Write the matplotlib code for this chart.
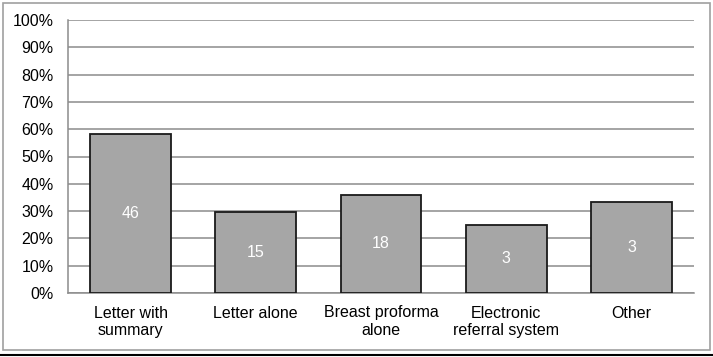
import numpy as np
import matplotlib
matplotlib.use('Agg')
import matplotlib.pyplot as plt
from matplotlib.patches import Rectangle
from matplotlib.ticker import PercentFormatter

categories = ['Letter with\nsummary', 'Letter alone', 'Breast proforma\nalone',
              'Electronic\nreferral system', 'Other']
percentages = [58.1, 29.5, 36.0, 25.0, 33.3]
counts = [46, 15, 18, 3, 3]
y_ticks = list(range(0, 101, 10))

plt.rcParams['font.family'] = ['Liberation Sans', 'DejaVu Sans']

fig = plt.figure(figsize=(7.13, 3.57), dpi=100)
# outer grey frame and black rule underneath, like the pasted figure
fig.patches.append(Rectangle((2.5 / 713, 1 - 349.5 / 357), 707.5 / 713, 346.5 / 357,
                             transform=fig.transFigure, fill=False,
                             edgecolor='#a0a0a0', linewidth=1.2))
fig.add_artist(plt.Line2D([0, 1], [1 - 355 / 357] * 2, transform=fig.transFigure,
                          color='black', linewidth=1.5))

ax = fig.add_axes([68 / 713, 1 - 293 / 357, 626 / 713, 273 / 357])
x = np.arange(len(categories))
bars = ax.bar(x, percentages, width=0.645, color='#a6a6a6',
              edgecolor='#1a1a1a', linewidth=1.3, zorder=3)
for b, c in zip(bars, counts):
    ax.text(b.get_x() + b.get_width() / 2, b.get_height() / 2, str(c),
            ha='center', va='center', color='white', fontsize=11.5, zorder=4)

ax.set_xlim(-0.5, len(categories) - 0.5)
ax.set_ylim(0, 100)
ax.set_yticks(y_ticks)
ax.yaxis.set_major_formatter(PercentFormatter(decimals=0))
ax.set_xticks(x)
ax.set_xticklabels(categories, fontsize=11.5, linespacing=1.2)
ax.tick_params(axis='y', labelsize=11.5, length=0, pad=10.5)
ax.tick_params(axis='x', length=0, pad=9)
ax.grid(axis='y', color='#8c8c8c', linewidth=1.1, zorder=0)
for s in ['top', 'right']:
    ax.spines[s].set_visible(False)
for s in ['left', 'bottom']:
    ax.spines[s].set_color('#8c8c8c')
    ax.spines[s].set_linewidth(1.1)

fig.savefig('out.png', dpi=100)
